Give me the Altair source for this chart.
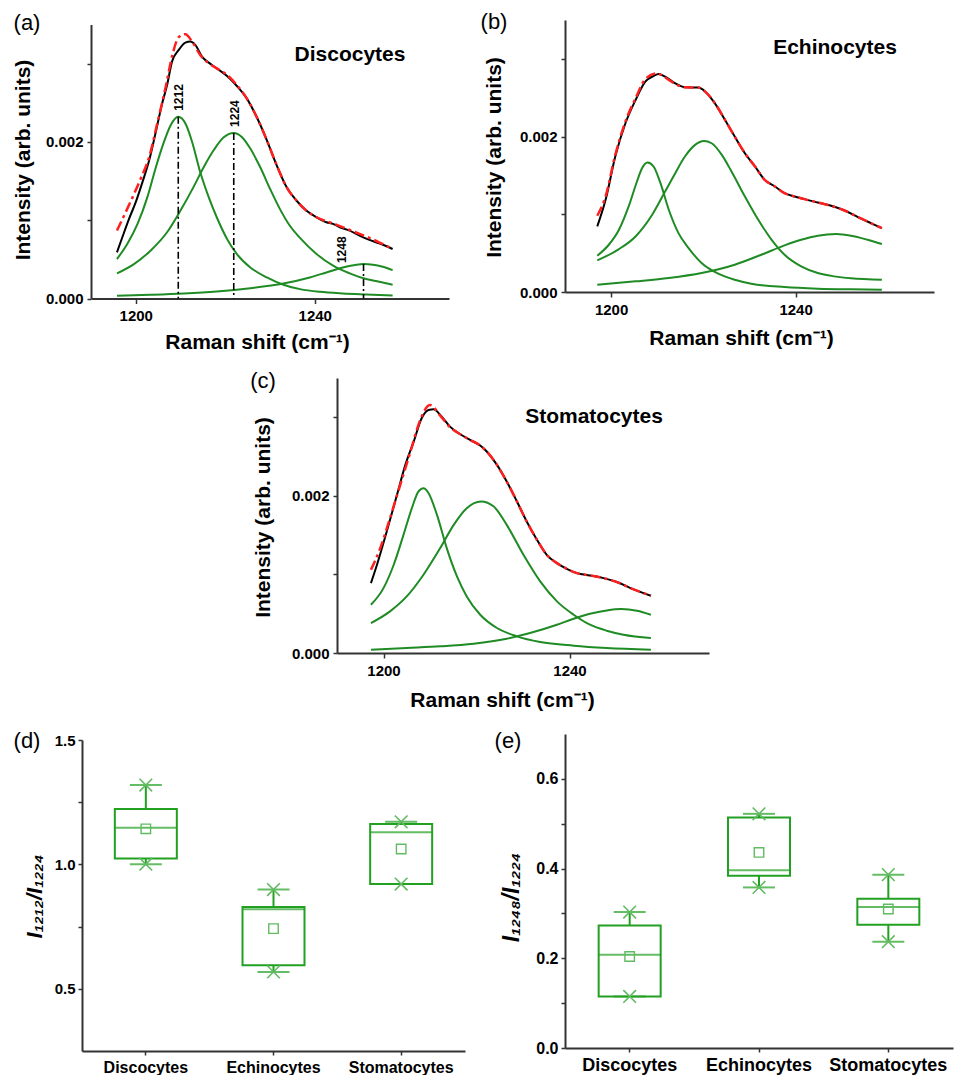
import altair as alt
import pandas as pd

FONT = "Liberation Sans"
AXIS_COLOR = "#333333"
GREEN = "#1f8b24"
BOX_GREEN = "#22a022"
LIGHT_GREEN = "#62bb62"
RED = "#ff1f1f"

# ---------------- (a) Discocytes spectrum ----------------
a_black_x = [1195.8, 1197.0, 1198.5, 1200.0, 1201.5, 1203.0, 1204.4, 1205.9, 1207.0, 1208.1, 1209.6, 1211.1,
             1212.2, 1213.3, 1214.8, 1216.3, 1218.1, 1220.4, 1222.6, 1224.8, 1227.0, 1229.3, 1231.5, 1233.7,
             1235.9, 1238.1, 1240.4, 1242.6, 1244.1, 1245.6, 1247.8, 1250.0, 1252.2, 1254.4, 1257.4]
a_black_y = [0.000590, 0.000782, 0.001017, 0.001231, 0.001487, 0.001765, 0.002107, 0.002491, 0.002726, 0.003026,
             0.003175, 0.003269, 0.003282, 0.003239, 0.003090, 0.003013, 0.002940, 0.002842, 0.002714, 0.002556,
             0.002321, 0.002021, 0.001701, 0.001423, 0.001252, 0.001124, 0.001038, 0.000974, 0.000953, 0.000910,
             0.000868, 0.000803, 0.000748, 0.000705, 0.000632]
a_red_x = [1195.8, 1197.4, 1199.3, 1201.1, 1203.0, 1204.8, 1206.7, 1208.1, 1209.6, 1211.1, 1212.6, 1214.4,
           1216.3, 1218.1, 1220.4, 1222.6, 1224.8, 1227.0, 1229.3, 1231.5, 1233.7, 1235.9, 1238.1, 1240.4,
           1242.6, 1244.8, 1247.8, 1250.0, 1252.2, 1254.4, 1257.4]
a_red_y = [0.000868, 0.001060, 0.001295, 0.001530, 0.001808, 0.002235, 0.002705, 0.003090, 0.003338, 0.003376,
           0.003282, 0.003111, 0.003004, 0.002940, 0.002855, 0.002726, 0.002556, 0.002321, 0.002021, 0.001701,
           0.001423, 0.001252, 0.001124, 0.001038, 0.000987, 0.000944, 0.000876, 0.000825, 0.000774, 0.000718,
           0.000632]
a_g1_x = [1195.8, 1198.1, 1200.4, 1202.6, 1204.4, 1206.3, 1207.8, 1209.5, 1211.1, 1212.6, 1214.4, 1216.3,
          1218.1, 1220.4, 1222.6, 1225.6, 1229.3, 1233.0, 1236.7, 1241.1, 1246.3, 1251.5, 1257.4]
a_g1_y = [0.000504, 0.000697, 0.000953, 0.001295, 0.001658, 0.002000, 0.002214, 0.002321, 0.002235, 0.002000,
          0.001615, 0.001295, 0.001038, 0.000761, 0.000568, 0.000397, 0.000269, 0.000175, 0.000120, 0.000085,
          0.000064, 0.000051, 0.000038]
a_g2_x = [1195.8, 1199.6, 1203.3, 1207.0, 1210.0, 1212.9, 1215.2, 1217.4, 1219.6, 1221.9, 1223.7, 1225.6,
          1227.8, 1230.0, 1232.2, 1234.4, 1236.7, 1240.4, 1244.1, 1247.8, 1251.5, 1254.4, 1257.4]
a_g2_y = [0.000321, 0.000440, 0.000611, 0.000846, 0.001124, 0.001423, 0.001679, 0.001893, 0.002056, 0.002115,
          0.002064, 0.001915, 0.001679, 0.001402, 0.001145, 0.000932, 0.000774, 0.000568, 0.000419, 0.000321,
          0.000248, 0.000214, 0.000175]
a_g3_x = [1195.8, 1203.3, 1210.7, 1218.1, 1225.6, 1233.0, 1238.9, 1242.6, 1246.3, 1249.3, 1250.9, 1253.0,
          1255.2, 1257.4]
a_g3_y = [0.000034, 0.000047, 0.000064, 0.000090, 0.000132, 0.000192, 0.000269, 0.000333, 0.000397, 0.000432,
          0.000440, 0.000432, 0.000406, 0.000363]
a_peak_x = [1209.5, 1221.9, 1250.9]
a_peak_y = [0.002321, 0.002115, 0.000440]
a_peak_label = ["1212", "1224", "1248"]

# ---------------- (b) Echinocytes spectrum ----------------
b_black_x = [1197.0, 1198.8, 1200.9, 1203.1, 1205.3, 1207.4, 1209.2, 1210.3, 1211.7, 1213.9, 1216.0, 1218.9,
             1220.4, 1222.5, 1224.7, 1226.8, 1229.0, 1231.2, 1233.3, 1235.5, 1237.6, 1239.8, 1241.9, 1244.8,
             1247.7, 1250.6, 1253.5, 1256.3, 1258.7]
b_black_y = [0.000844, 0.001186, 0.001743, 0.002171, 0.002471, 0.002707, 0.002779, 0.002805, 0.002771, 0.002685,
             0.002634, 0.002630, 0.002578, 0.002428, 0.002214, 0.002000, 0.001786, 0.001615, 0.001443, 0.001358,
             0.001272, 0.001229, 0.001195, 0.001152, 0.001109, 0.001049, 0.000964, 0.000887, 0.000822]
b_red_x = [1197.0, 1198.8, 1200.9, 1203.1, 1205.3, 1207.4, 1209.9, 1211.7, 1213.9, 1216.0, 1218.9, 1220.4,
           1222.5, 1224.7, 1226.8, 1229.0, 1231.2, 1233.3, 1235.5, 1237.6, 1239.8, 1241.9, 1244.8, 1247.7,
           1250.6, 1253.5, 1256.3, 1258.7]
b_red_y = [0.000981, 0.001229, 0.001764, 0.002193, 0.002493, 0.002737, 0.002814, 0.002762, 0.002677, 0.002634,
           0.002630, 0.002578, 0.002428, 0.002214, 0.002000, 0.001786, 0.001615, 0.001443, 0.001358, 0.001272,
           0.001229, 0.001195, 0.001152, 0.001109, 0.001049, 0.000964, 0.000887, 0.000822]
b_g1_x = [1197.0, 1199.5, 1201.7, 1203.8, 1205.6, 1206.7, 1207.9, 1209.2, 1210.7, 1212.5, 1214.6, 1216.8,
          1219.6, 1223.2, 1226.8, 1230.4, 1237.6, 1244.8, 1252.0, 1258.7]
b_g1_y = [0.000467, 0.000608, 0.000801, 0.001101, 0.001422, 0.001593, 0.001666, 0.001615, 0.001400, 0.001058,
          0.000758, 0.000565, 0.000373, 0.000236, 0.000158, 0.000107, 0.000064, 0.000043, 0.000034, 0.000030]
b_g2_x = [1197.0, 1201.7, 1205.3, 1208.9, 1211.7, 1213.9, 1216.0, 1218.2, 1220.1, 1221.8, 1224.0, 1226.1,
          1229.0, 1231.9, 1234.8, 1237.6, 1241.2, 1244.8, 1248.4, 1252.0, 1258.7]
b_g2_y = [0.000407, 0.000552, 0.000715, 0.000994, 0.001293, 0.001529, 0.001743, 0.001893, 0.001944, 0.001914,
          0.001764, 0.001550, 0.001229, 0.000929, 0.000672, 0.000480, 0.000330, 0.000244, 0.000201, 0.000176,
          0.000158]
b_g3_x = [1197.0, 1205.3, 1212.5, 1219.6, 1226.8, 1232.6, 1237.6, 1241.2, 1244.8, 1248.8, 1252.0, 1255.6,
          1258.7]
b_g3_y = [0.000094, 0.000137, 0.000180, 0.000244, 0.000351, 0.000480, 0.000600, 0.000672, 0.000724, 0.000745,
          0.000724, 0.000672, 0.000617]

# ---------------- (c) Stomatocytes spectrum ----------------
c_black_x = [1197.3, 1198.6, 1200.7, 1202.9, 1204.7, 1206.5, 1208.2, 1209.7, 1210.8, 1212.2, 1214.3, 1216.5,
             1218.6, 1220.8, 1222.2, 1224.4, 1226.5, 1228.7, 1230.8, 1233.0, 1235.1, 1237.3, 1239.4, 1241.6,
             1244.4, 1247.3, 1250.2, 1253.1, 1257.5]
c_black_y = [0.000890, 0.001123, 0.001547, 0.002013, 0.002394, 0.002691, 0.002987, 0.003093, 0.003102, 0.003030,
             0.002881, 0.002784, 0.002712, 0.002640, 0.002564, 0.002394, 0.002182, 0.001928, 0.001674, 0.001441,
             0.001250, 0.001144, 0.001072, 0.001017, 0.000987, 0.000953, 0.000903, 0.000826, 0.000729]
c_red_x = [1197.3, 1199.3, 1201.4, 1203.6, 1205.7, 1207.9, 1210.0, 1212.2, 1214.3, 1216.5, 1218.6, 1220.8,
           1222.2, 1224.4, 1226.5, 1228.7, 1230.8, 1233.0, 1235.1, 1237.3, 1239.4, 1241.6, 1244.4, 1247.3,
           1250.2, 1253.1, 1257.5]
c_red_y = [0.001059, 0.001335, 0.001716, 0.002140, 0.002542, 0.002966, 0.003157, 0.003021, 0.002873, 0.002784,
           0.002712, 0.002640, 0.002564, 0.002394, 0.002182, 0.001928, 0.001674, 0.001441, 0.001250, 0.001144,
           0.001072, 0.001017, 0.000987, 0.000953, 0.000903, 0.000826, 0.000729]
c_g1_x = [1197.3, 1200.0, 1202.2, 1204.3, 1206.1, 1207.5, 1208.6, 1209.7, 1211.5, 1213.6, 1215.8, 1217.9,
          1220.8, 1224.4, 1228.7, 1233.7, 1240.9, 1248.0, 1257.5]
c_g1_y = [0.000614, 0.000826, 0.001123, 0.001504, 0.001843, 0.002055, 0.002097, 0.002034, 0.001758, 0.001335,
          0.000975, 0.000720, 0.000487, 0.000318, 0.000212, 0.000140, 0.000093, 0.000064, 0.000042]
c_g2_x = [1197.3, 1201.4, 1205.0, 1208.6, 1212.2, 1215.1, 1217.9, 1221.0, 1223.7, 1226.5, 1230.1, 1233.7,
          1237.3, 1240.9, 1244.4, 1248.0, 1251.6, 1257.5]
c_g2_y = [0.000381, 0.000530, 0.000720, 0.000996, 0.001335, 0.001631, 0.001843, 0.001928, 0.001864, 0.001631,
          0.001250, 0.000911, 0.000657, 0.000487, 0.000360, 0.000284, 0.000233, 0.000191]
c_g3_x = [1197.3, 1205.0, 1212.2, 1219.4, 1226.5, 1231.5, 1237.3, 1240.9, 1244.4, 1248.0, 1251.1, 1254.5,
          1257.5]
c_g3_y = [0.000042, 0.000064, 0.000085, 0.000119, 0.000182, 0.000254, 0.000360, 0.000436, 0.000500, 0.000542,
          0.000559, 0.000538, 0.000487]

# ---------------- (d), (e) box statistics ----------------
cells = ["Discocytes", "Echinocytes", "Stomatocytes"]
d_min = [1.001, 0.568, 0.921]
d_q1 = [1.024, 0.595, 0.921]
d_median = [1.147, 0.820, 1.129]
d_q3 = [1.223, 0.829, 1.162]
d_max = [1.319, 0.899, 1.171]
d_mean = [1.143, 0.742, 1.062]

e_min = [0.115, 0.358, 0.237]
e_q1 = [0.115, 0.384, 0.275]
e_median = [0.208, 0.396, 0.3145]
e_q3 = [0.273, 0.514, 0.333]
e_max = [0.303, 0.522, 0.3865]
e_mean = [0.204, 0.436, 0.310]


def text_at(txt, px, py, size, weight="normal", **kw):
    return alt.Chart(pd.DataFrame({"t": [txt]})).mark_text(
        font=FONT, fontSize=size, fontWeight=weight, align="center", baseline="middle", color="black", **kw
    ).encode(x=alt.value(px), y=alt.value(py), text="t:N")


def frame(width, height, L, T, R, B):
    # invisible box that fixes the extent of a panel for the concat layout
    return alt.Chart(pd.DataFrame({"f": [0]})).mark_rect(opacity=0).encode(
        x=alt.value(-L), x2=alt.value(width + R), y=alt.value(-T), y2=alt.value(height + B))


def spectrum_panel(curves, vw, vh, inset, box, letter, letter_pos, name, name_pos, ytitle_pos, xtitle_pos,
                   peaks=None):
    ix, iy = inset  # plot rectangle starts ix px right / iy px below the view origin
    rows = []
    for cname, xs, ys in curves:
        for x, y in zip(xs, ys):
            rows.append({"curve": cname, "shift": x, "intensity": y})
    df = pd.DataFrame(rows)
    xscale = alt.Scale(domain=[1190, 1270], nice=False, zero=False, range=[ix, vw])
    yscale = alt.Scale(domain=[0, 0.0035], nice=False, range=[vh, iy])
    xaxis = alt.Axis(values=[1200, 1240], format="d", title="Raman shift (cm⁻¹)",
                     titleX=xtitle_pos[0] + ix, titleY=xtitle_pos[1], titleAngle=0, titleAlign="center",
                     titleBaseline="middle", titleFontSize=21, tickSize=5, labelPadding=5, labelFontSize=15)
    yaxis = alt.Axis(values=[0, 0.001, 0.002, 0.003], offset=-ix,
                     labelExpr="(round(datum.value*1000) % 2 == 1) ? '' : format(datum.value, '.3f')",
                     title="Intensity (arb. units)", titleX=ytitle_pos[0], titleY=ytitle_pos[1] + iy,
                     titleAngle=270, titleAlign="center", titleBaseline="middle", titleFontSize=21,
                     tickSize=4, labelPadding=4, labelFontSize=15)
    base = alt.Chart(df).encode(
        x=alt.X("shift:Q", scale=xscale, axis=xaxis),
        y=alt.Y("intensity:Q", scale=yscale, axis=yaxis),
    )
    greens = base.transform_filter("datum.curve != 'black' && datum.curve != 'red'").mark_line(
        color=GREEN, strokeWidth=2, interpolate="monotone").encode(detail="curve:N")
    black = base.transform_filter("datum.curve == 'black'").mark_line(
        color="black", strokeWidth=2, interpolate="monotone")
    red = base.transform_filter("datum.curve == 'red'").mark_line(
        color=RED, strokeWidth=2.5, strokeDash=[10, 4, 3, 4], interpolate="monotone")
    layers = [frame(vw, vh, *box), greens]
    if peaks is not None:
        px_, py_, pl_ = peaks
        pdf = pd.DataFrame({"shift": px_, "intensity": py_, "label": pl_})
        pbase = alt.Chart(pdf).encode(
            x=alt.X("shift:Q", scale=xscale, axis=xaxis),
            y=alt.Y("intensity:Q", scale=yscale, axis=yaxis),
        )
        rules = pbase.mark_rule(color="black", strokeWidth=1.6, strokeDash=[7, 3, 2, 3]).encode(
            y2=alt.datum(0))
        lab_main = pbase.transform_filter("datum.label != '1248'").mark_text(
            font=FONT, fontSize=12, fontWeight="bold", angle=270, align="left", baseline="middle",
            dx=6, dy=1, color="black"
        ).encode(text="label:N")
        lab_side = pbase.transform_filter("datum.label == '1248'").mark_text(
            font=FONT, fontSize=12, fontWeight="bold", angle=270, align="left", baseline="middle",
            dx=1, dy=-22, color="black"
        ).encode(text="label:N")
        layers += [rules, lab_main, lab_side]
    layers += [black, red,
               text_at(letter, letter_pos[0] + ix, letter_pos[1] + iy, 22),
               text_at(name, name_pos[0] + ix, name_pos[1] + iy, 21, "bold")]
    return alt.layer(*layers).properties(width=vw, height=vh)


def box_panel(mins, q1s, meds, q3s, maxs, means, vw, vh, iy, box, ydomain, yvalues, label_expr,
              ytitle, ytitle_pos, ytitle_size, letter, letter_pos, label_size, tick_label_size):
    df = pd.DataFrame({"cell": cells, "lo": mins, "q1": q1s, "med": meds, "q3": q3s, "hi": maxs,
                       "mean": means})
    xenc = alt.X("cell:N", sort=cells, scale=alt.Scale(paddingInner=0, paddingOuter=0),
                 axis=alt.Axis(title=None, labelAngle=0, labelFontSize=label_size, tickSize=4,
                               labelPadding=4, labelBaseline="top"))
    yscale = alt.Scale(domain=ydomain, nice=False, zero=False, range=[vh, iy])
    yaxis = alt.Axis(values=yvalues, labelExpr=label_expr, title=ytitle,
                     titleX=ytitle_pos[0], titleY=ytitle_pos[1] + iy, titleAngle=270, titleAlign="center",
                     titleBaseline="middle", titleFontSize=ytitle_size, titleFontStyle="italic",
                     tickSize=4, labelPadding=3, labelFontSize=tick_label_size)

    def Y(f):
        return alt.Y(f + ":Q", scale=yscale, axis=yaxis)

    base = alt.Chart(df).encode(x=xenc)
    boxes = base.mark_bar(filled=False, color=BOX_GREEN, strokeWidth=2, size=62).encode(y=Y("q1"), y2="q3:Q")
    wlo = base.mark_rule(color=BOX_GREEN, strokeWidth=2).encode(y=Y("lo"), y2="q1:Q")
    whi = base.mark_rule(color=BOX_GREEN, strokeWidth=2).encode(y=Y("q3"), y2="hi:Q")
    med = base.mark_tick(color=BOX_GREEN, size=62, thickness=2).encode(y=Y("med"))
    cap_lo = base.mark_tick(color=BOX_GREEN, size=32, thickness=2).encode(y=Y("lo"))
    cap_hi = base.mark_tick(color=BOX_GREEN, size=32, thickness=2).encode(y=Y("hi"))
    xshape = "M-1,-1L1,1M-1,1L1,-1"
    x_lo = base.mark_point(shape=xshape, size=160, filled=False, color=LIGHT_GREEN, strokeWidth=1.6,
                           opacity=1).encode(y=Y("lo"))
    x_hi = base.mark_point(shape=xshape, size=160, filled=False, color=LIGHT_GREEN, strokeWidth=1.6,
                           opacity=1).encode(y=Y("hi"))
    mean = base.mark_point(shape="square", size=90, filled=False, color=LIGHT_GREEN, strokeWidth=1.4,
                           opacity=1).encode(y=Y("mean"))
    lab = text_at(letter, letter_pos[0], letter_pos[1] + iy, 22)
    return alt.layer(frame(vw, vh, *box), wlo, whi, boxes, med, cap_lo, cap_hi, x_lo, x_hi, mean,
                     lab).properties(width=vw, height=vh)


# view sizes, plot insets and panel extents (left, top, right, bottom)
panel_a = spectrum_panel(
    [("g1", a_g1_x, a_g1_y), ("g2", a_g2_x, a_g2_y), ("g3", a_g3_x, a_g3_y),
     ("black", a_black_x, a_black_y), ("red", a_red_x, a_red_y)],
    367, 278.5, (9, 4.5), (74, 12, 21, 67.5), "(a)", (-64, -1.5), "Discocytes", (259, 30), (-68, 135),
    (166, 44), peaks=(a_peak_x, a_peak_y, a_peak_label))
panel_b = spectrum_panel(
    [("g1", b_g1_x, b_g1_y), ("g2", b_g2_x, b_g2_y), ("g3", b_g3_x, b_g3_y),
     ("black", b_black_x, b_black_y), ("red", b_red_x, b_red_y)],
    369, 272, (0, 0), (95, 12, 21, 74), "(b)", (-71, 2), "Echinocytes", (270, 28), (-71, 137), (176, 46))
panel_c = spectrum_panel(
    [("g1", c_g1_x, c_g1_y), ("g2", c_g2_x, c_g2_y), ("g3", c_g3_x, c_g3_y),
     ("black", c_black_x, c_black_y), ("red", c_red_x, c_red_y)],
    627, 275, (255, 0), (74, 12, 246, 69), "(c)", (-74, 2.5), "Stomatocytes", (257, 39), (-74, 139),
    (165, 47))

panel_d = box_panel(d_min, d_q1, d_median, d_q3, d_max, d_mean, 383, 317, 6, (74, 12, 5, 24), [0.25, 1.5],
                    [0.5, 0.75, 1.0, 1.25, 1.5],
                    "(round(datum.value*4) % 2 == 1) ? '' : format(datum.value, '.1f')",
                    "I₁₂₁₂/I₁₂₂₄", (-48, 156), 22, "(d)", (-55, 1), 16, 15)
panel_e = box_panel(e_min, e_q1, e_median, e_q3, e_max, e_mean, 388, 314, 0, (95, 12, 2, 27), [0, 0.7],
                    [0.0, 0.1, 0.2, 0.3, 0.4, 0.5, 0.6],
                    "(round(datum.value*10) % 2 == 1) ? '' : format(datum.value, '.1f')",
                    "I₁₂₄₈/I₁₂₂₄", (-54, 163), 23, "(e)", (-57, 7), 18, 16)

row1 = alt.hconcat(panel_a, panel_b, spacing=0)
row3 = alt.hconcat(panel_d, panel_e, spacing=0)

chart = alt.vconcat(row1, panel_c, row3, spacing=0).properties(
    padding={"left": 0, "top": 0, "right": 0, "bottom": 0}, background="white"
).configure_view(stroke=None).configure_axis(
    domainColor=AXIS_COLOR, domainWidth=2, tickColor=AXIS_COLOR, tickWidth=1.5, grid=False,
    labelFont=FONT, labelFontWeight="bold", labelColor="black",
    titleFont=FONT, titleFontWeight="bold", titleColor="black"
)

chart.save("out.html", embed_options={"renderer": "svg", "actions": False})
